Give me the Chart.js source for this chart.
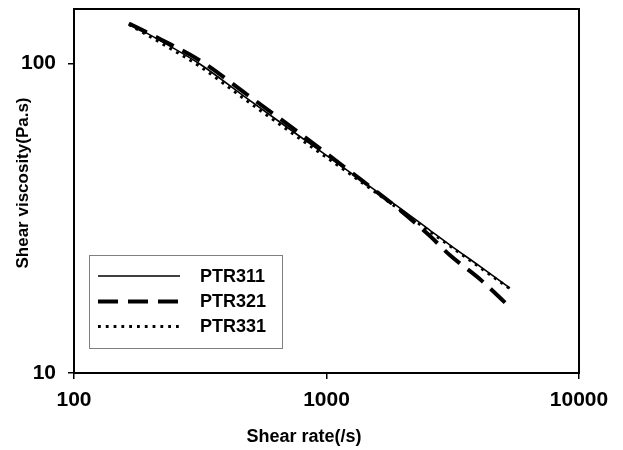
<!DOCTYPE html>
<html><head><meta charset="utf-8">
<script src="https://cdn.jsdelivr.net/npm/chart.js@4.4.1/dist/chart.umd.min.js"></script>
<style>html,body{margin:0;padding:0;background:#fff;} canvas{display:block;}</style>
</head><body>
<canvas id="c" width="623" height="450"></canvas>
<script>
const shearRate = [165, 219, 315, 484, 785, 1240, 1955, 2570, 3085, 4055, 5330];
const ptr311 = [134.6, 118.7, 99.6, 77.1, 58.1, 44.5, 34.1, 28.9, 25.9, 22.1, 18.8];
const ptr321 = [134.6, 120.0, 102.3, 79.4, 59.4, 44.8, 33.6, 27.7, 24.0, 20.1, 16.3];
const ptr331 = [133.6, 116.9, 97.8, 75.7, 57.1, 43.9, 33.6, 28.6, 25.7, 21.9, 18.7];
const seriesNames = ['PTR311', 'PTR321', 'PTR331'];
const xTicks = [100, 1000, 10000];
const yTicks = [10, 100];
const xTitle = 'Shear rate(/s)';
const yTitle = 'Shear viscosity(Pa.s)';

const FONT = "'Liberation Sans', Arial, sans-serif";
const toXY = ys => shearRate.map((x, i) => ({x: x, y: ys[i]}));

const framePlugin = {
  id: 'frameAndLegend',
  afterDraw(chart) {
    const ctx = chart.ctx;
    const a = chart.chartArea;
    ctx.save();
    ctx.strokeStyle = '#000';
    ctx.lineWidth = 2;
    ctx.strokeRect(a.left, a.top, a.right - a.left, a.bottom - a.top);
    // axis titles
    ctx.fillStyle = '#000';
    ctx.textAlign = 'center';
    ctx.textBaseline = 'middle';
    ctx.font = 'bold 18px ' + FONT;
    ctx.fillText(xTitle, 304, 437);
    ctx.save();
    ctx.translate(23, 183);
    ctx.rotate(-Math.PI / 2);
    ctx.font = 'bold 17px ' + FONT;
    ctx.fillText(yTitle, 0, 0);
    ctx.restore();
    // legend
    const bx = 89.5, by = 255.5, bw = 193, bh = 93;
    ctx.fillStyle = '#fff';
    ctx.fillRect(bx, by, bw, bh);
    ctx.strokeStyle = '#7f7f7f';
    ctx.lineWidth = 1;
    ctx.strokeRect(bx, by, bw, bh);
    const rows = [276, 301.5, 326.5];
    chart.data.datasets.forEach((ds, i) => {
      ctx.save();
      ctx.strokeStyle = ds.borderColor;
      ctx.lineWidth = ds.borderWidth;
      ctx.setLineDash(ds.borderDash || []);
      ctx.lineCap = 'butt';
      ctx.beginPath();
      ctx.moveTo(98, rows[i]);
      ctx.lineTo(180, rows[i]);
      ctx.stroke();
      ctx.restore();
      ctx.fillStyle = '#000';
      ctx.font = 'bold 18px ' + FONT;
      ctx.textBaseline = 'middle';
      ctx.textAlign = 'left';
      ctx.fillText(ds.label, 200, rows[i] + 1);
    });
    ctx.restore();
  }
};

new Chart(document.getElementById('c'), {
  type: 'line',
  data: {
    datasets: [
      {label: seriesNames[0], data: toXY(ptr311), borderColor: '#000', borderWidth: 1.6, borderDash: [], pointRadius: 0, cubicInterpolationMode: 'monotone', fill: false},
      {label: seriesNames[1], data: toXY(ptr321), borderColor: '#000', borderWidth: 4, borderDash: [20, 10], pointRadius: 0, cubicInterpolationMode: 'monotone', fill: false},
      {label: seriesNames[2], data: toXY(ptr331), borderColor: '#000', borderWidth: 2.8, borderDash: [2.8, 5], pointRadius: 0, cubicInterpolationMode: 'monotone', fill: false}
    ]
  },
  options: {
    responsive: false,
    animation: false,
    layout: {padding: {left: 0, right: 44, top: 9, bottom: 0}},
    plugins: {legend: {display: false}, tooltip: {enabled: false}},
    scales: {
      x: {
        type: 'logarithmic', min: 100, max: 10000,
        afterBuildTicks: s => { s.ticks = xTicks.map(v => ({value: v, major: true})); },
        afterFit: s => { s.height = 77; s.paddingLeft = 0; s.paddingRight = 0; },
        grid: {drawOnChartArea: false, drawTicks: true, tickLength: 6, color: '#000', lineWidth: 1.5},
        border: {display: true, color: '#000', width: 2},
        ticks: {color: '#000', font: {family: FONT, size: 21, weight: 'bold'}, padding: 9, maxRotation: 0, autoSkip: false, callback: v => String(v)},
        title: {display: false, text: xTitle}
      },
      y: {
        type: 'logarithmic', min: 10, max: 150,
        afterBuildTicks: s => { s.ticks = yTicks.map(v => ({value: v, major: true})); },
        afterFit: s => { s.width = 74; s.paddingTop = 0; s.paddingBottom = 0; },
        grid: {drawOnChartArea: false, drawTicks: true, tickLength: 6, color: '#000', lineWidth: 1.5},
        border: {display: true, color: '#000', width: 2},
        ticks: {color: '#000', font: {family: FONT, size: 21, weight: 'bold'}, padding: 12, autoSkip: false, callback: v => String(v)},
        title: {display: false, text: yTitle}
      }
    }
  },
  plugins: [framePlugin]
});
</script>
</body></html>
